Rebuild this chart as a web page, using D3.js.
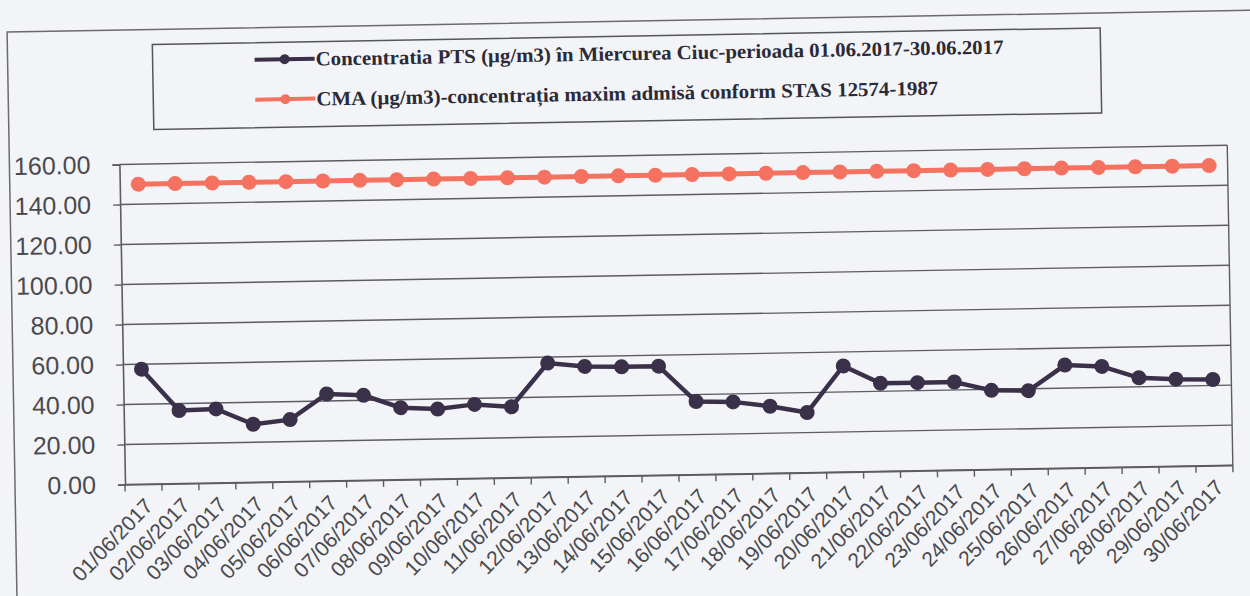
<!DOCTYPE html>
<html>
<head>
<meta charset="utf-8">
<script src="https://d3js.org/d3.v7.min.js"></script>
<style>
    body { margin: 0; background: #f3f4f8; }
    svg { display: block; }
</style>
</head>
<body>
<svg id="drawing_region"></svg>
<script>
// data
const dates = [
    "01/06/2017", "02/06/2017", "03/06/2017", "04/06/2017", "05/06/2017",
    "06/06/2017", "07/06/2017", "08/06/2017", "09/06/2017", "10/06/2017",
    "11/06/2017", "12/06/2017", "13/06/2017", "14/06/2017", "15/06/2017",
    "16/06/2017", "17/06/2017", "18/06/2017", "19/06/2017", "20/06/2017",
    "21/06/2017", "22/06/2017", "23/06/2017", "24/06/2017", "25/06/2017",
    "26/06/2017", "27/06/2017", "28/06/2017", "29/06/2017", "30/06/2017"
];
const pts = [57.5, 36.5, 37, 29, 31, 43.5, 42.5, 36, 35, 37,
             35.5, 57, 55, 54.5, 54.5, 36.5, 36, 33.5, 30, 53,
             44, 44, 44, 39.5, 39, 51.5, 50.5, 44.5, 43.5, 43];
const cma = [150, 150, 150, 150, 150, 150, 150, 150, 150, 150,
             150, 150, 150, 150, 150, 150, 150, 150, 150, 150,
             150, 150, 150, 150, 150, 150, 150, 150, 150, 150];
const yTicks = [0, 20, 40, 60, 80, 100, 120, 140, 160];
const seriesNames = [
    "Concentratia PTS (µg/m3) în Miercurea Ciuc-perioada 01.06.2017-30.06.2017",
    "CMA (µg/m3)-concentrația maxim admisă conform STAS 12574-1987"
];

class LineChart {

    constructor( config ) {
        this.config = {
            parent: config.parent,
            width: config.width || 1250,
            height: config.height || 596,
            margin: config.margin || {top:10, right:10, bottom:10, left:10}
        };
        this.init();
    }

    init() {
        let self = this;

        self.svg = d3.select( self.config.parent )
            .attr('width', self.config.width)
            .attr('height', self.config.height);

        self.svg.append('rect')
            .attr('width', self.config.width)
            .attr('height', self.config.height)
            .attr('fill', '#f3f4f8');

        // the scan is tilted by about one degree
        self.root = self.svg.append('g')
            .attr('transform', 'rotate(-1, 125, 484.5)');

        // outer chart frame
        self.root.append('path')
            .attr('d', 'M15,596 V30 H1280')
            .attr('fill', 'none')
            .attr('stroke', '#6a6a70')
            .attr('stroke-width', 1.5);

        self.inner_width = self.config.width - self.config.margin.left - self.config.margin.right;
        self.inner_height = self.config.height - self.config.margin.top - self.config.margin.bottom;

        self.chart = self.root.append('g')
            .attr('transform', `translate(${self.config.margin.left}, ${self.config.margin.top})`);

        self.xscale = d3.scaleBand().domain( dates ).range( [0, self.inner_width] ).padding(0);
        self.yscale = d3.scaleLinear().domain( [0, 160] ).range( [self.inner_height, 0] );
    }

    render() {
        let self = this;
        const bw = self.xscale.bandwidth();

        // gridlines
        self.chart.append('g')
            .selectAll('line')
            .data( yTicks )
            .join('line')
            .attr('x1', 0).attr('x2', self.inner_width)
            .attr('y1', d => self.yscale(d)).attr('y2', d => self.yscale(d))
            .attr('stroke', '#5c5c62')
            .attr('stroke-width', 1.4);

        self.chart.append('line')
            .attr('x1', self.inner_width).attr('x2', self.inner_width)
            .attr('y1', 0).attr('y2', self.inner_height)
            .attr('stroke', '#5c5c62')
            .attr('stroke-width', 1.4);

        // y axis
        const yaxis = d3.axisLeft( self.yscale )
            .tickValues( yTicks )
            .tickFormat( d3.format('.2f') )
            .tickSize(7)
            .tickPadding(22);
        const yg = self.chart.append('g').call( yaxis );
        yg.select('.domain').attr('stroke', '#5c5c62').attr('stroke-width', 1.6);
        yg.selectAll('.tick line').attr('stroke', '#5c5c62').attr('stroke-width', 1.4);
        yg.selectAll('text')
            .attr('font-family', '"Liberation Sans", Arial, sans-serif')
            .attr('font-size', 25)
            .attr('fill', '#4a4a4e');

        // x axis: labels at category centres, ticks between categories
        const xaxis = d3.axisBottom( self.xscale ).tickSize(0);
        const xg = self.chart.append('g')
            .attr('transform', `translate(0, ${self.inner_height})`)
            .call( xaxis );
        xg.select('.domain').attr('stroke', '#5c5c62').attr('stroke-width', 1.6);
        xg.selectAll('text')
            .attr('x', 0).attr('y', 0).attr('dy', '0.35em')
            .attr('transform', 'translate(5, 18) rotate(-45)')
            .attr('text-anchor', 'end')
            .attr('font-family', '"Liberation Sans", Arial, sans-serif')
            .attr('font-size', 21)
            .attr('fill', '#4a4a4e');

        xg.append('g')
            .selectAll('line')
            .data( dates.concat(['end']) )
            .join('line')
            .attr('x1', (d, i) => i * bw).attr('x2', (d, i) => i * bw)
            .attr('y1', 0).attr('y2', 7)
            .attr('stroke', '#5c5c62')
            .attr('stroke-width', 1.4);

        const line = d3.line()
            .x( (d, i) => self.xscale( dates[i] ) + bw / 2 )
            .y( d => self.yscale( d ) );

        const series = [
            { values: cma, color: '#f4725f', width: 5 },
            { values: pts, color: '#3a3049', width: 4.5 }
        ];

        series.forEach( s => {
            self.chart.append('path')
                .datum( s.values )
                .attr('d', line)
                .attr('fill', 'none')
                .attr('stroke', s.color)
                .attr('stroke-width', s.width);

            self.chart.append('g')
                .selectAll('circle')
                .data( s.values )
                .join('circle')
                .attr('cx', (d, i) => self.xscale( dates[i] ) + bw / 2)
                .attr('cy', d => self.yscale( d ))
                .attr('r', 7.5)
                .attr('fill', s.color);
        });

        // legend
        const legend = self.root.append('g');
        legend.append('rect')
            .attr('x', 160).attr('y', 45)
            .attr('width', 948).attr('height', 85)
            .attr('fill', 'none')
            .attr('stroke', '#55555c')
            .attr('stroke-width', 1.5);

        const legendItems = [
            { name: seriesNames[0], color: '#3a3049', len: 688 },
            { name: seriesNames[1], color: '#f4725f', len: 622 }
        ];
        const item = legend.selectAll('g.item')
            .data( legendItems )
            .join('g')
            .attr('class', 'item')
            .attr('transform', (d, i) => `translate(262, ${62 + i * 40})`);
        item.append('line')
            .attr('x1', 0).attr('x2', 60)
            .attr('stroke', d => d.color)
            .attr('stroke-width', 4);
        item.append('circle')
            .attr('cx', 30).attr('r', 5)
            .attr('fill', d => d.color);
        item.append('text')
            .attr('x', 61).attr('dy', '0.35em')
            .attr('textLength', d => d.len)
            .attr('lengthAdjust', 'spacingAndGlyphs')
            .attr('font-family', '"Liberation Serif", "Times New Roman", serif')
            .attr('font-weight', 'bold')
            .attr('font-size', 20)
            .attr('fill', '#2b2a36')
            .text( d => d.name );
    }
}

const chart = new LineChart({
    parent: '#drawing_region',
    width: 1250,
    height: 596,
    margin: {top:164.5, right:17, bottom:111.5, left:125}
});
chart.render();
</script>
</body>
</html>
